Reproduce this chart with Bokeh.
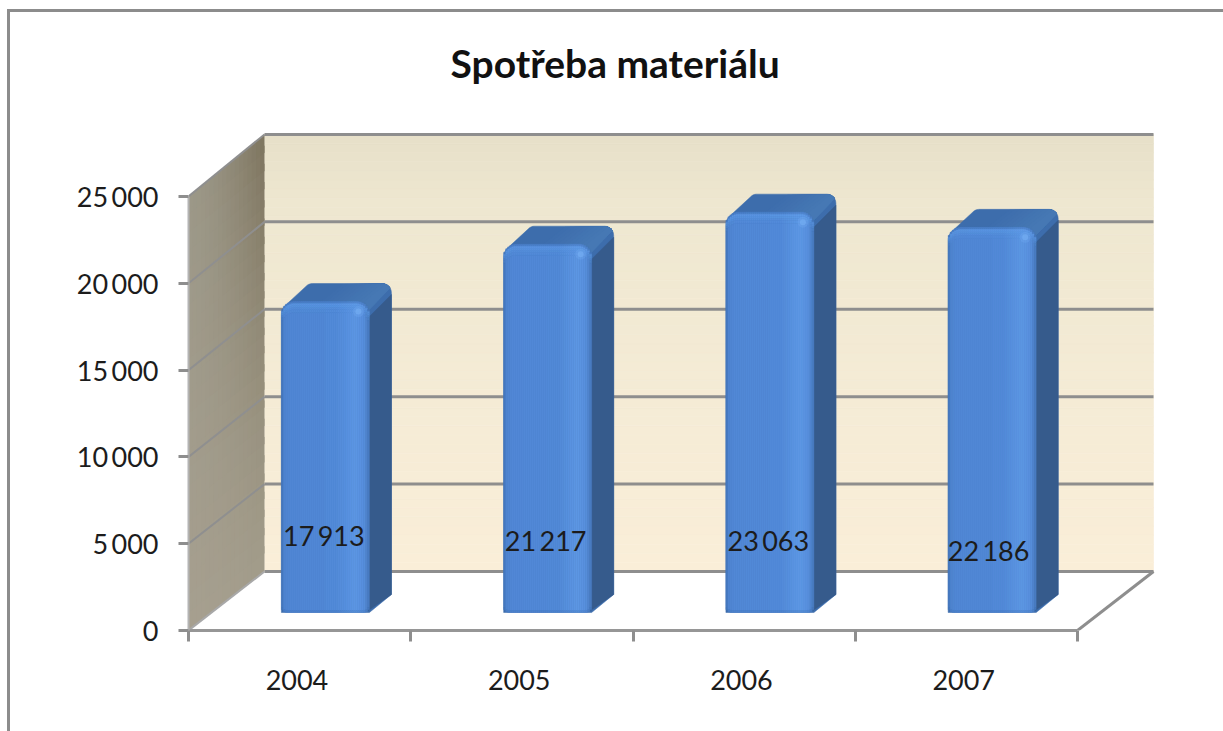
import math
from bokeh.plotting import figure
from bokeh.embed import file_html
from bokeh.resources import INLINE
from bokeh.models import (Range1d, LinearAxis, FixedTicker, Title, ColumnDataSource)
from bokeh.core.properties import value

TITLE = "Spotřeba materiálu"
YEARS = ["2004", "2005", "2006", "2007"]
CONSUMPTION = [17913, 21217, 23063, 22186]
VALUE_LABELS = ["17\u2009913", "21\u2009217", "23\u2009063", "22\u2009186"]
Y_TICKS = [0, 5000, 10000, 15000, 20000, 25000]
Y_TICK_LABELS = ["0", "5\u2009000", "10\u2009000", "15\u2009000", "20\u2009000", "25\u2009000"]

# layout constants (pixels per data unit on this chart)
PX_X = 222.25          # px per category
PX_Y = 0.01736         # px per value unit
DEPTH_X = 76 / PX_X    # depth of the 3-D box
DEPTH_Y = 59 / PX_Y
BACK_SCALE = 1.007     # the back wall is drawn slightly taller than the front plane
FONT = "Lato"
INK = "#1c1c1c"
AXIS_GREY = "#8e8e8e"
EDGE = "linear-gradient(#8c8c8c,#8c8c8c)"


def hx(c):
    return tuple(int(c[i:i + 2], 16) for i in (1, 3, 5))


def mix(a, b, t):
    a, b = hx(a), hx(b)
    return "#%02x%02x%02x" % tuple(round(a[i] + (b[i] - a[i]) * t) for i in range(3))


def ramp(stops, t):
    for (t0, c0), (t1, c1) in zip(stops, stops[1:]):
        if t <= t1:
            return mix(c0, c1, (t - t0) / (t1 - t0) if t1 > t0 else 0)
    return stops[-1][1]


def back(v):
    return DEPTH_Y + v * BACK_SCALE


p = figure(width=1223, height=731, output_backend="svg", toolbar_location=None,
           x_range=Range1d(0, 1035 / PX_X), y_range=Range1d(0, 525 / PX_Y),
           x_axis_location=None, y_axis_location=None,
           min_border_left=188, min_border_right=0, min_border_top=105, min_border_bottom=101,
           outline_line_color=None, background_fill_color="white", border_fill_color=None)
p.grid.visible = False
# chart-area border (left and top edges only)
p.styles = {"background-image": f"{EDGE},{EDGE}",
            "background-size": "3px 722px,1216px 3px",
            "background-position": "7px 9px,7px 9px",
            "background-repeat": "no-repeat"}

p.add_layout(Title(text=TITLE, align="left", offset=262, standoff=40,
                   text_font=FONT, text_font_size="39px", text_font_style="bold",
                   text_color="#111111"), "above")

# ---- back wall
N = 48
top_val = Y_TICKS[-1]
wall = dict(left=[], right=[], top=[], bottom=[], color=[])
stops = [(0, "#faeed8"), (0.45, "#f4ebd5"), (0.85, "#eee7d0"), (1, "#e7e0c8")]
for i in range(N):
    wall["left"].append(DEPTH_X)
    wall["right"].append(len(YEARS) + DEPTH_X)
    wall["bottom"].append(back(top_val * i / N))
    wall["top"].append(back(top_val * (i + 1) / N))
    wall["color"].append(ramp(stops, (i + .5) / N))
p.quad(left="left", right="right", top="top", bottom="bottom", fill_color="color",
       line_color="color", line_width=0.6, source=ColumnDataSource(wall))

# ---- left side wall: overlapping cells painted in order, so no seams show
xs, ys, cols = [], [], []
NU, NV = 18, 24


def side_y(u, v):
    return (1 - u) * v + u * back(v)


for iu in range(NU):
    for iv in range(NV):
        u0, u1 = iu / NU, min((iu + 1.4) / NU, 1)
        v0, v1 = iv / NV, min((iv + 1.4) / NV, 1)
        xs.append([DEPTH_X * u0, DEPTH_X * u1, DEPTH_X * u1, DEPTH_X * u0])
        ys.append([side_y(u0, top_val * v0), side_y(u1, top_val * v0),
                   side_y(u1, top_val * v1), side_y(u0, top_val * v1)])
        vc, uc = (iv + .5) / NV, (iu + .5) / NU
        left_c = mix("#a69f8f", "#9c9888", vc)
        right_c = mix("#a19b89", "#7d745e", vc ** 1.3)
        cols.append(mix(left_c, right_c, uc ** 1.6))
p.patches(xs, ys, fill_color=cols, line_color=None)

# ---- gridlines on the walls and the box edges
for v in Y_TICKS[1:]:
    p.line([0, DEPTH_X], [v, back(v)], line_color="#8f8f8f", line_width=2)
    p.line([DEPTH_X, len(YEARS) + DEPTH_X], [back(v)] * 2, line_color=AXIS_GREY, line_width=3)
p.line([DEPTH_X, len(YEARS) + DEPTH_X], [DEPTH_Y, DEPTH_Y], line_color=AXIS_GREY, line_width=3)
p.line([0, DEPTH_X], [0, DEPTH_Y], line_color="#a8a8a8", line_width=2)
p.line([len(YEARS), len(YEARS) + DEPTH_X], [0, DEPTH_Y], line_color=AXIS_GREY, line_width=3)

# ---- bars
BAR_X0, BAR_X1 = 0.418, 0.814
BAR_BASE = 18 / PX_Y
BAR_DX, BAR_DY = 22 / PX_X, 18 / PX_Y
RF = 13.0   # radius of the front face's top corners
RB = 9.0    # radius of the back corners
RL = 6.0    # radius of the bottom corners
strip_stops = [(0, "#3f70b4"), (0.03, "#4e84d0"), (0.1, "#5288d6"), (0.62, "#528ad8"),
               (0.84, "#5e98e5"), (0.94, "#588fdc"), (1, "#4678bc")]


def drop(u, w, r):
    d = min(u, w - u)
    return r - math.sqrt(max(r * r - (r - d) ** 2, 0)) if d < r else 0.0


def arc(cx, cy, r, a0, a1, n=6):
    return [(cx + r * math.cos(math.radians(a0 + (a1 - a0) * k / n)),
             cy + r * math.sin(math.radians(a0 + (a1 - a0) * k / n))) for k in range(n + 1)]


for i, val in enumerate(CONSUMPTION):
    x0, x1 = i + BAR_X0, i + BAR_X1
    ybase = BAR_BASE
    W = (x1 - x0) * PX_X
    H = val * PX_Y
    DX, DY = BAR_DX * PX_X, BAR_DY * PX_Y
    to_x = lambda px: x0 + px / PX_X
    to_y = lambda py: ybase + py / PX_Y

    # whole silhouette (top colour)
    sil = [(0, RL)] + arc(RF, H - RF, RF, 180, 125) + arc(DX + RB, H + DY - RB, RB, 125, 90)
    sil += arc(W + DX - RB, H + DY - RB, RB, 90, 0) + [(W + DX, DY), (W, 0), (0, 0)]
    p.patch([to_x(a) for a, b in sil], [to_y(b) for a, b in sil], fill_color="#3d6dac",
            line_color="#3d6dac", line_width=0.5)
    # top face lightens gradually towards the right
    for k in range(10):
        f = 0.45 + k * 0.055
        tr = [(W * f, H), (W * f + DX, H + DY - .5)] + arc(W + DX - RB, H + DY - RB, RB, 90, 30) + [(W, H - 8)]
        p.patch([to_x(a) for a, b in tr], [to_y(b) for a, b in tr],
                fill_color=mix("#3d6dac", "#4678b4", (k + 1) / 10), line_color=None)
    # side face
    side = [(W - 1, 2), (W + DX, DY), (W + DX, H + DY - RB - 2), (W - 1, H - RF - 3)]
    p.patch([to_x(a) for a, b in side], [to_y(b) for a, b in side], fill_color="#365b8c",
            line_color="#365b8c", line_width=0.5)
    # front face: vertical shading strips with a rounded, highlighted top
    q = dict(left=[], right=[], top=[], bottom=[], color=[])
    NS = 44
    for s in range(NS):
        u0, u1 = W * s / NS, W * (s + 1) / NS
        uc = (u0 + u1) / 2
        base = ramp(strip_stops, uc / W)
        ytopx = H - drop(uc, W, RF)
        ybotx = drop(uc, W, RL)
        bands = [(0, 2, "#4274b8", 0.45), (2, 4, "#64a0ec", 0.5), (4, 6, "#60a0ea", 0.45),
                 (6, 8, "#60a0ea", 0.25), (8, 11, "#60a0ea", 0.1)]
        y_cur = ytopx
        for d0, d1, col, amt in bands:
            q["left"].append(to_x(u0)); q["right"].append(to_x(u1))
            q["top"].append(to_y(ytopx - d0)); q["bottom"].append(to_y(ytopx - d1))
            q["color"].append(mix(base, col, amt))
            y_cur = ytopx - d1
        q["left"].append(to_x(u0)); q["right"].append(to_x(u1))
        q["top"].append(to_y(y_cur)); q["bottom"].append(to_y(ybotx + 2))
        q["color"].append(base)
        q["left"].append(to_x(u0)); q["right"].append(to_x(u1))
        q["top"].append(to_y(ybotx + 2)); q["bottom"].append(to_y(ybotx))
        q["color"].append(mix(base, "#3d6eb0", 0.25))
    p.quad(left="left", right="right", top="top", bottom="bottom", fill_color="color",
           line_color="color", line_width=0.4, source=ColumnDataSource(q))
    # small glint at the upper right corner of the front face
    p.scatter([to_x(W - 11)], [to_y(H - 10)], size=11, marker="circle", fill_color="#70aaf2",
              fill_alpha=0.35, line_color=None)
    p.scatter([to_x(W - 11)], [to_y(H - 10)], size=6, marker="circle", fill_color="#78b2f6",
              fill_alpha=0.55, line_color=None)

# ---- value labels (hand-placed in the original)
LABEL_X = [0.609, 0.607, 0.609, 0.600]
LABEL_Y = [95 / PX_Y, 90 / PX_Y, 90 / PX_Y, 80 / PX_Y]
p.text([i + LABEL_X[i] for i in range(len(YEARS))], LABEL_Y, text=VALUE_LABELS,
       text_font=value(FONT), text_font_size="27px", text_color=INK,
       text_align="center", text_baseline="middle")

# ---- axes
yax = LinearAxis(ticker=FixedTicker(ticks=Y_TICKS), bounds=(0, Y_TICKS[-1]),
                 major_label_overrides=dict(zip(Y_TICKS, Y_TICK_LABELS)),
                 major_label_text_font=FONT, major_label_text_font_size="27px",
                 major_label_text_color=INK, major_label_standoff=20,
                 major_tick_out=10, major_tick_in=0, major_tick_line_color=AXIS_GREY,
                 major_tick_line_width=3, minor_tick_line_color=None,
                 axis_line_color="#b4b4b4", axis_line_width=2)
p.add_layout(yax, "left")

centres = [i + 0.488 for i in range(len(YEARS))]
xax = LinearAxis(ticker=FixedTicker(ticks=centres, minor_ticks=list(range(len(YEARS) + 1))),
                 bounds=(0, len(YEARS)),
                 major_label_overrides=dict(zip(centres, YEARS)),
                 major_label_text_font=FONT, major_label_text_font_size="27px",
                 major_label_text_color=INK, major_label_standoff=28,
                 major_tick_line_color=None, major_tick_out=0, major_tick_in=0,
                 minor_tick_out=11, minor_tick_in=0, minor_tick_line_color=AXIS_GREY,
                 minor_tick_line_width=3, axis_line_color="#969696", axis_line_width=3)
p.add_layout(xax, "below")

open("out.html", "w").write(file_html(p, INLINE))
